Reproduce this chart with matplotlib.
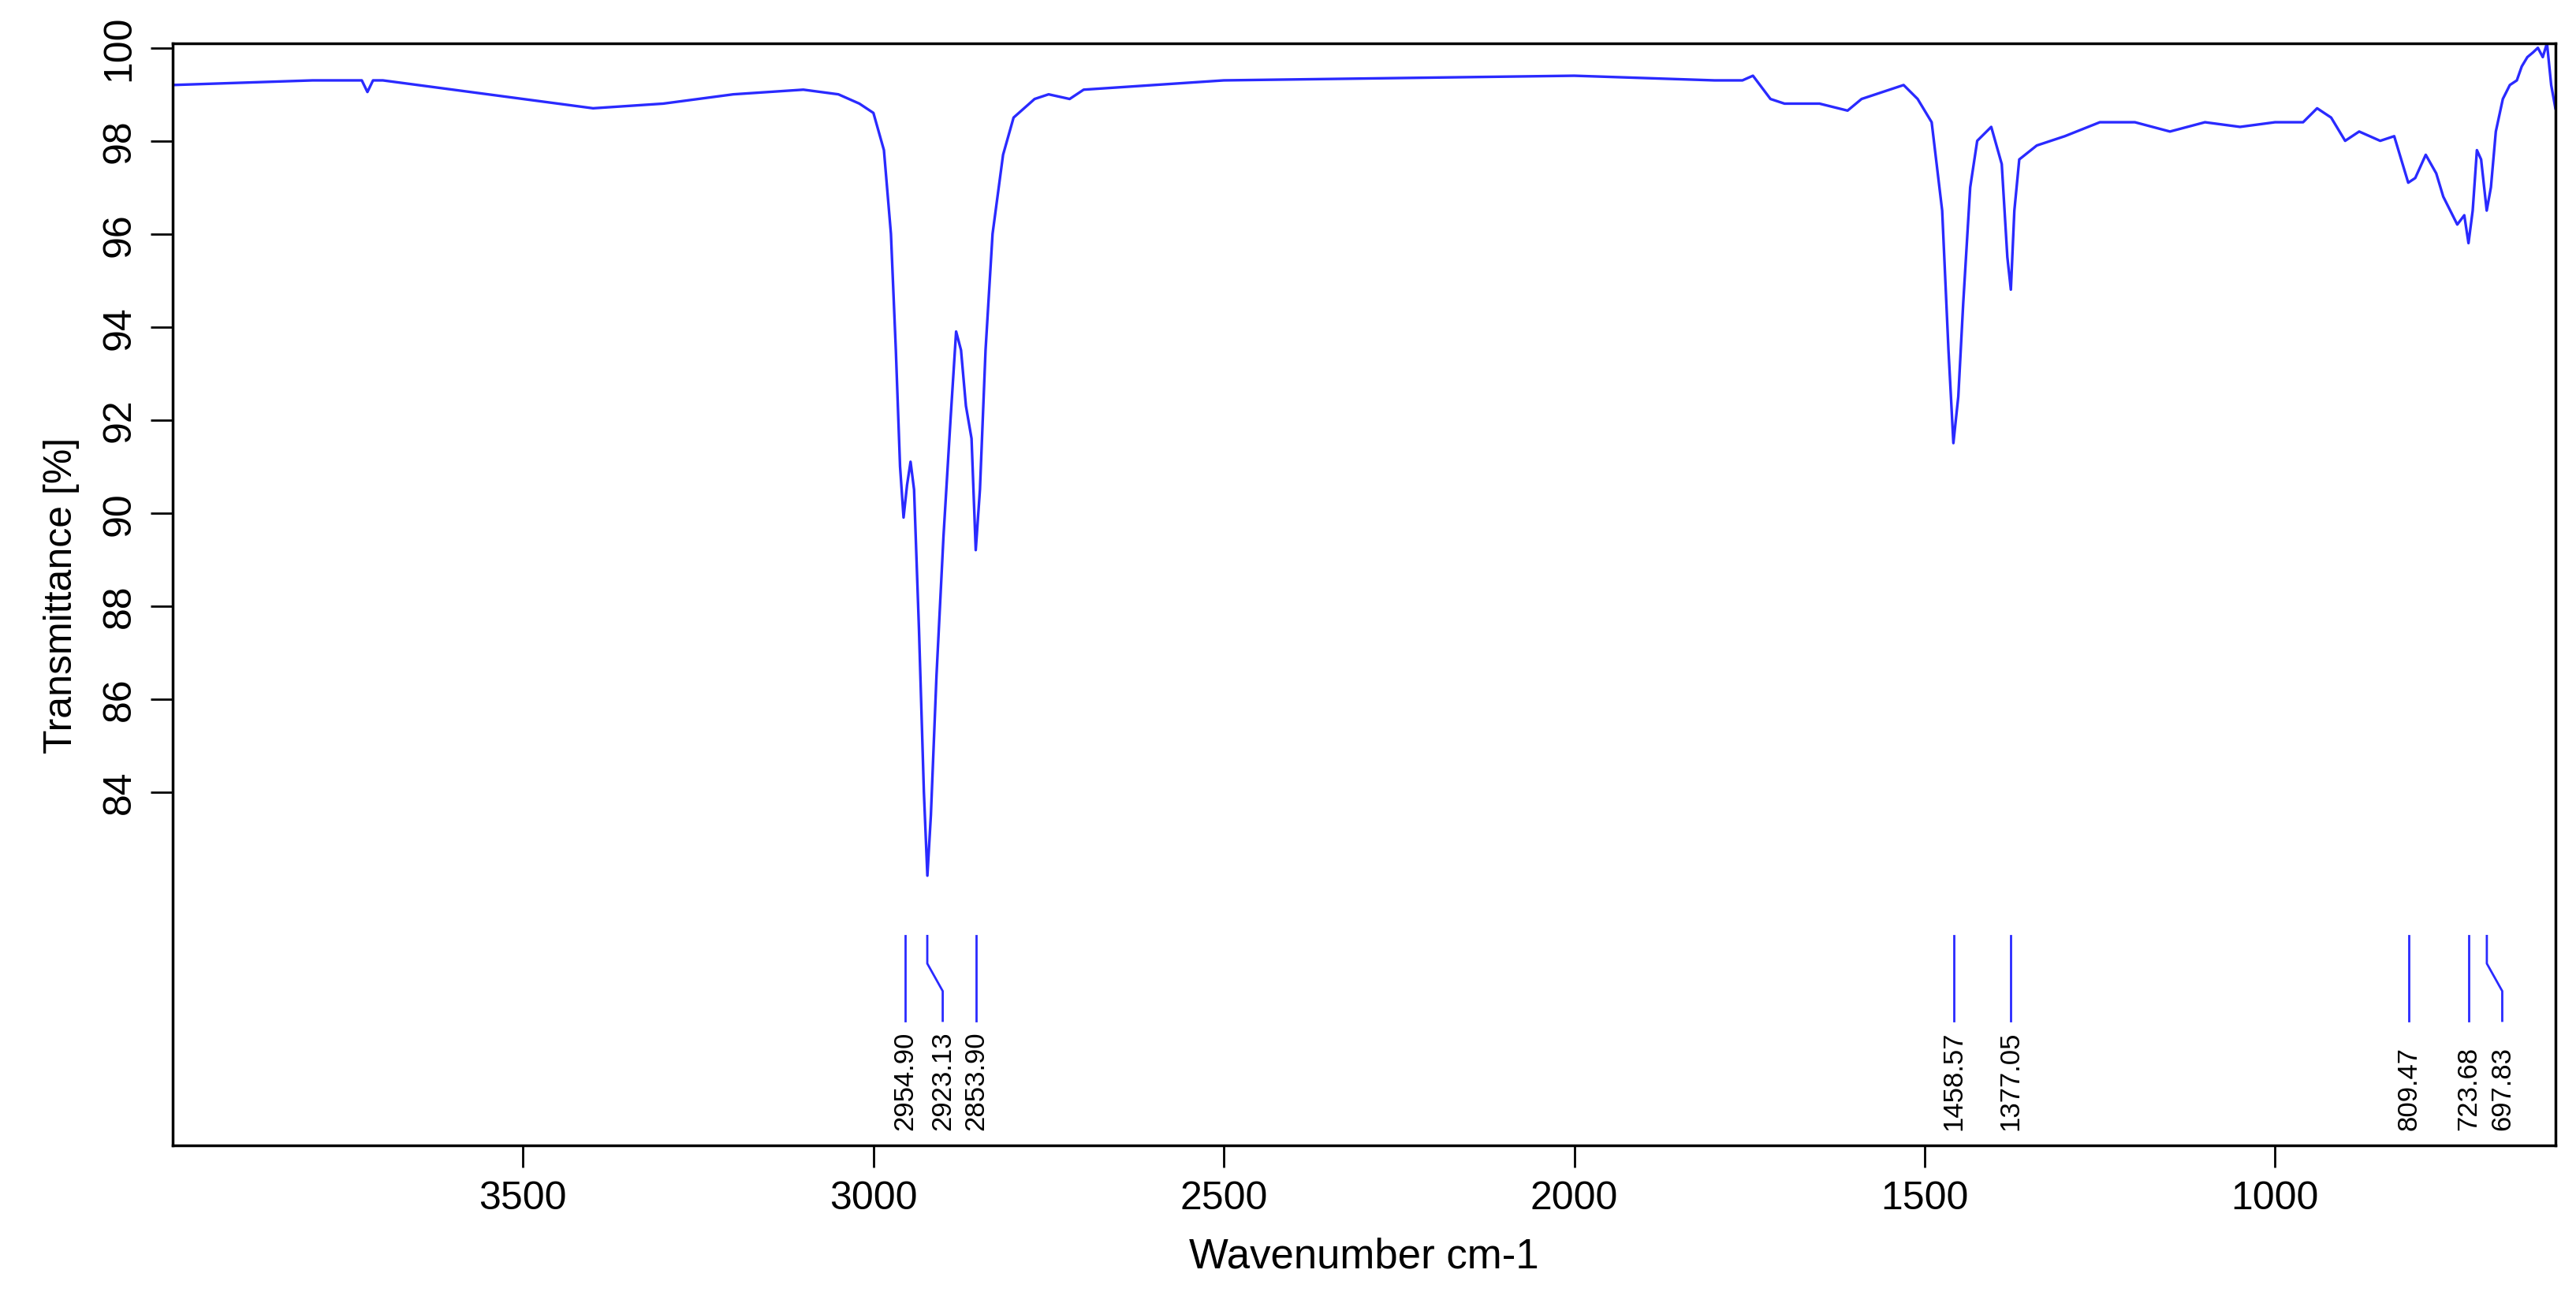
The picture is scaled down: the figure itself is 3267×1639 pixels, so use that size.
import matplotlib
matplotlib.use("Agg")
import matplotlib.pyplot as plt
import numpy as np

plt.rcParams['font.family'] = ['Liberation Sans', 'DejaVu Sans']

wavenumber = [4000, 3900, 3800, 3730, 3722, 3714, 3700, 3600, 3500, 3400, 3300, 3200, 3100, 3050,
              3020, 3000, 2985, 2975, 2968, 2962, 2957, 2952, 2947, 2942, 2935, 2928, 2923, 2918,
              2910, 2900, 2890, 2882, 2875, 2868, 2860, 2854, 2848, 2840, 2830, 2815, 2800, 2770,
              2750, 2720, 2700, 2500, 2000, 1800, 1760, 1745, 1720, 1700, 1650, 1610, 1590, 1550,
              1530, 1510, 1490, 1475, 1466, 1459, 1452, 1445, 1435, 1425, 1405, 1390, 1382, 1377,
              1372, 1365, 1340, 1300, 1250, 1200, 1150, 1100, 1050, 1000, 960, 940, 920, 900, 880,
              850, 830, 810, 800, 785, 770, 760, 740, 730, 724, 718, 712, 706, 698, 692, 685, 675,
              665, 655, 648, 640, 632, 625, 618, 612, 606, 600]
transmittance = [99.2, 99.25, 99.3, 99.3, 99.05, 99.3, 99.3, 99.1, 98.9, 98.7, 98.8, 99.0, 99.1, 99.0,
                 98.8, 98.6, 97.8, 96.0, 93.5, 91.0, 89.9, 90.6, 91.1, 90.5, 87.5, 84.0, 82.2, 83.5,
                 86.5, 89.5, 92.0, 93.9, 93.5, 92.3, 91.6, 89.2, 90.5, 93.5, 96.0, 97.7, 98.5, 98.9,
                 99.0, 98.9, 99.1, 99.3, 99.4, 99.3, 99.3, 99.4, 98.9, 98.8, 98.8, 98.65, 98.9, 99.1,
                 99.2, 98.9, 98.4, 96.5, 93.5, 91.5, 92.5, 94.5, 97.0, 98.0, 98.3, 97.5, 95.5, 94.8,
                 96.5, 97.6, 97.9, 98.1, 98.4, 98.4, 98.2, 98.4, 98.3, 98.4, 98.4, 98.7, 98.5, 98.0, 98.2,
                 98.0, 98.1, 97.1, 97.2, 97.7, 97.3, 96.8, 96.2, 96.4, 95.8, 96.5, 97.8, 97.6, 96.5, 97.0,
                 98.2, 98.9, 99.2, 99.3, 99.6, 99.8, 99.9, 100.0, 99.8, 100.1, 99.2, 98.7]

peak_positions = [2954.90, 2923.13, 2853.90, 1458.57, 1377.05, 809.47, 723.68, 697.83]
peak_labels = ["2954.90", "2923.13", "2853.90", "1458.57", "1377.05", "809.47", "723.68", "697.83"]
peak_label_shift = [0, -22, 0, 0, 0, 0, 0, -22]   # label x offset (cm-1) relative to peak

fig = plt.figure(figsize=(32.67, 16.4), dpi=100)
ax = fig.add_axes([0.067, 0.1134, 0.925, 0.8526])
ax.plot(wavenumber, transmittance, color='#2a2aff', lw=2.4)
ax.set_xlim(4000, 600)
ax.set_ylim(76.4, 100.1)
ax.set_xticks([3500, 3000, 2500, 2000, 1500, 1000])
ax.set_yticks(np.arange(84, 101, 2))
ax.tick_params(direction='out', length=20, width=2, labelsize=36, pad=12)
for lab in ax.get_yticklabels():
    lab.set_rotation(90)
    lab.set_va('center')
for s in ax.spines.values():
    s.set_linewidth(2.5)
ax.set_xlabel("Wavenumber cm-1", fontsize=38, labelpad=18)
ax.set_ylabel("Transmittance [%]", fontsize=36, labelpad=20)

trans = ax.get_xaxis_transform()
for p, lab, sh in zip(peak_positions, peak_labels, peak_label_shift):
    xb = p + sh
    ax.plot([p, p, xb, xb], [0.19, 0.165, 0.14, 0.113], transform=trans,
            color='#2a2aff', lw=2)
    ax.text(xb, 0.0143, lab, transform=trans, rotation=90, ha='center', va='bottom',
            fontsize=25)

fig.savefig("out.png", dpi=100)
